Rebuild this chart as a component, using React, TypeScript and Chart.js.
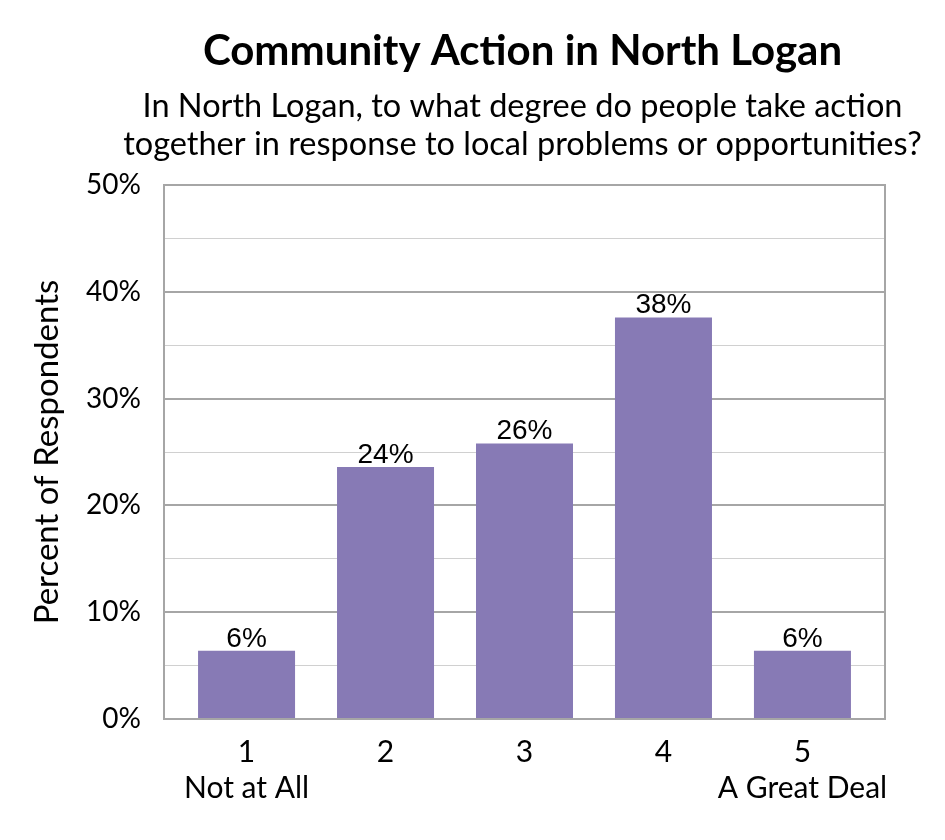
import React, { useEffect, useRef } from "react";
import { Chart, registerables } from "chart.js";

Chart.register(...registerables);

const categories: string[][] = [["1", "Not at All"], ["2"], ["3"], ["4"], ["5", "A Great Deal"]];
const values: number[] = [6.4, 23.6, 25.8, 37.6, 6.4];
const yTicks: number[] = [0, 10, 20, 30, 40, 50];
const titleText = "Community Action in North Logan";
const subtitleLines = [
  "In North Logan, to what degree do people take action",
  "together in response to local problems or opportunities?",
];
const yAxisTitle = "Percent of Respondents";

const FONT = "Lato, 'Open Sans', sans-serif";
const GRID_MAJOR = "#A6A6A6";
const GRID_MINOR = "#D0D0D0";

const valueLabels = {
  id: "valueLabels",
  afterDatasetsDraw(chart: any) {
    const ctx = chart.ctx;
    const meta = chart.getDatasetMeta(0);
    ctx.save();
    ctx.font = "28px 'Liberation Sans', Arial, sans-serif";
    ctx.fillStyle = "#000";
    ctx.textAlign = "center";
    ctx.textBaseline = "alphabetic";
    meta.data.forEach((bar: any, i: number) => {
      ctx.fillText(Math.round(values[i]) + "%", bar.x, bar.y - 4);
    });
    ctx.restore();
  },
};

const frameAndTitles = {
  id: "frameAndTitles",
  afterDraw(chart: any) {
    const { ctx, chartArea } = chart;
    ctx.save();
    ctx.strokeStyle = GRID_MAJOR;
    ctx.lineWidth = 2;
    ctx.strokeRect(chartArea.left, chartArea.top, chartArea.right - chartArea.left, chartArea.bottom - chartArea.top);
    const cx = (chartArea.left + chartArea.right) / 2 - 2;
    ctx.fillStyle = "#000";
    ctx.textAlign = "center";
    ctx.textBaseline = "middle";
    ctx.font = `bold 42px ${FONT}`;
    ctx.fillText(titleText, cx, 51);
    ctx.font = `32.5px ${FONT}`;
    subtitleLines.forEach((line, i) => ctx.fillText(line, cx, 107 + i * 38));
    ctx.restore();
  },
};

export default function App() {
  const ref = useRef<HTMLCanvasElement | null>(null);
  useEffect(() => {
    if (!ref.current) return;
    const chart = new Chart(ref.current, {
      type: "bar",
      data: {
        datasets: [
          {
            data: values.map((v, i) => ({ x: i + 1, y: v })),
            backgroundColor: "#877AB5",
            barPercentage: 0.698,
            categoryPercentage: 1,
          },
        ],
      },
      options: {
        animation: false,
        responsive: true,
        maintainAspectRatio: false,
        layout: { padding: { left: 0, right: 60, top: 185, bottom: 0 } },
        plugins: {
          legend: { display: false },
          tooltip: { enabled: false },
          title: { display: false },
          subtitle: { display: false },
        },
        scales: {
          x: {
            type: "linear",
            min: 0.406,
            max: 5.594,
            offset: false,
            afterBuildTicks(scale: any) {
              scale.ticks = categories.map((_, i) => ({ value: i + 1 }));
            },
            grid: { display: false, drawTicks: false, offset: false },
            border: { display: true, color: GRID_MAJOR, width: 2 },
            ticks: {
              color: "#000",
              font: { family: FONT, size: 30, lineHeight: 1.2 },
              padding: 15,
              maxRotation: 0,
              autoSkip: false,
              callback: (v: any) => {
                const idx = Math.round(Number(v)) - 1;
                return categories[idx] || "";
              },
            },
            afterFit(scale: any) {
              scale.height = 121;
            },
          },
          y: {
            min: 0,
            max: 50,
            afterBuildTicks(scale: any) {
              const t: any[] = [];
              for (let v = 0; v <= 50; v += 5) t.push({ value: v });
              scale.ticks = t;
            },
            grid: {
              drawTicks: false,
              color: (c: any) => (c.tick && c.tick.value % 10 === 0 ? GRID_MAJOR : GRID_MINOR),
              lineWidth: (c: any) => (c.tick && c.tick.value % 10 === 0 ? 2 : 1),
            },
            border: { display: true, color: GRID_MAJOR, width: 2 },
            ticks: {
              color: "#000",
              font: { family: FONT, size: 28 },
              padding: 23,
              callback: (v: any) => (yTicks.includes(Number(v)) ? v + "%" : ""),
            },
            title: {
              display: true,
              text: yAxisTitle,
              color: "#000",
              font: { family: FONT, size: 33, lineHeight: 1.2 },
              padding: { top: 28, bottom: 0 },
            },
            afterFit(scale: any) {
              scale.width = 164;
            },
          },
        },
      },
      plugins: [valueLabels, frameAndTitles],
    });
    return () => chart.destroy();
  }, []);
  return (
    <div style={{ position: "absolute", left: 0, top: 0, width: 945, height: 840, background: "#fff" }}>
      <canvas ref={ref} />
    </div>
  );
}
